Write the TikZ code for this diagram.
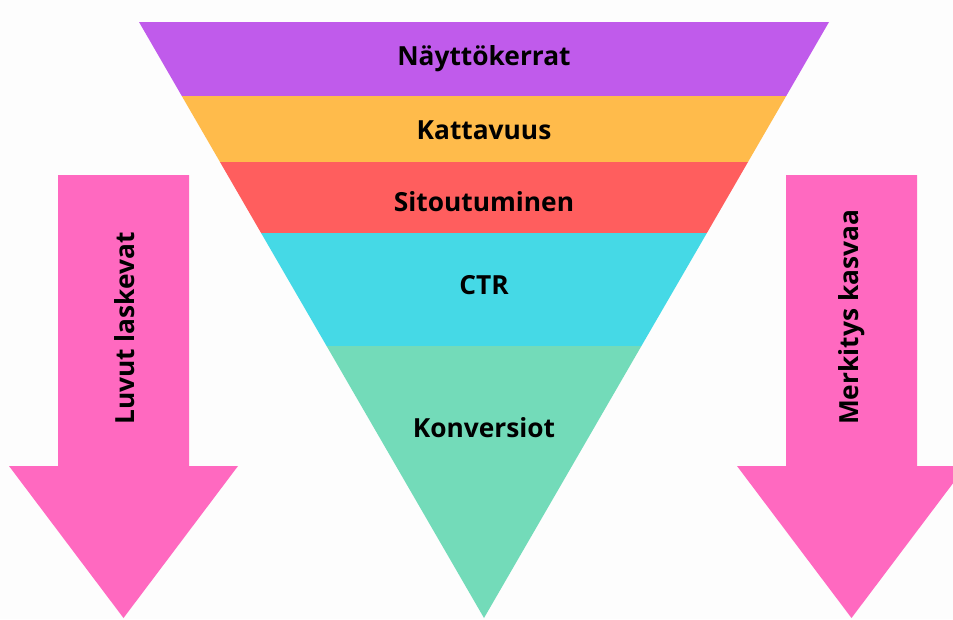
\documentclass[tikz,border=0pt]{standalone}
\usepackage{fontspec}
\setmainfont{Open Sans}
\definecolor{bgc}{HTML}{FDFDFD}
\definecolor{cpurple}{HTML}{C05BEB}
\definecolor{corange}{HTML}{FFBB4B}
\definecolor{cred}{HTML}{FF5E5E}
\definecolor{ccyan}{HTML}{45D9E6}
\definecolor{cgreen}{HTML}{73DBB9}
\definecolor{cpink}{HTML}{FF69C0}
\tikzset{
  lbl/.style={font=\fontsize{26.3}{30}\selectfont\bfseries, text=black, inner sep=0pt},
  vlbl/.style={lbl, rotate=90, anchor=west},
  arrowshape/.style={fill=cpink},
}
\begin{document}
\begin{tikzpicture}[x=1pt,y=-1pt]
\fill[bgc] (0,0) rectangle (953,619);
\useasboundingbox (0,0) rectangle (953,619);
% funnel bands
\fill[cpurple] (139,22) -- (829,22) -- (786.2,96) -- (181.8,96) -- cycle;
\fill[corange] (181.8,96) -- (786.2,96) -- (748,162) -- (220,162) -- cycle;
\fill[cred] (220,162) -- (748,162) -- (706.9,233) -- (261.1,233) -- cycle;
\fill[ccyan] (261.1,233) -- (706.9,233) -- (641.4,346) -- (326.6,346) -- cycle;
\fill[cgreen] (326.6,346) -- (641.4,346) -- (484,618) -- cycle;
% labels
\node[lbl] (n1) at (484,59) {Näyttökerrat};
\node[lbl] (n2) at (484,130) {Kattavuus};
\node[lbl] (n3) at (484,202) {Sitoutuminen};
\node[lbl] (n4) at (484,285) {CTR};
\node[lbl] (n5) at (484,428) {Konversiot};
% arrows
\fill[arrowshape] (58,175) -- (189,175) -- (189,466) -- (238,466) -- (123.5,618) -- (9,466) -- (58,466) -- cycle;
\fill[arrowshape] (786,175) -- (917,175) -- (917,466) -- (966,466) -- (851.5,618) -- (737,466) -- (786,466) -- cycle;
\node[vlbl] (la) at (125,425) {Luvut laskevat};
\node[vlbl] (ra) at (852,425) {Merkitys kasvaa};
\end{tikzpicture}
\end{document}
